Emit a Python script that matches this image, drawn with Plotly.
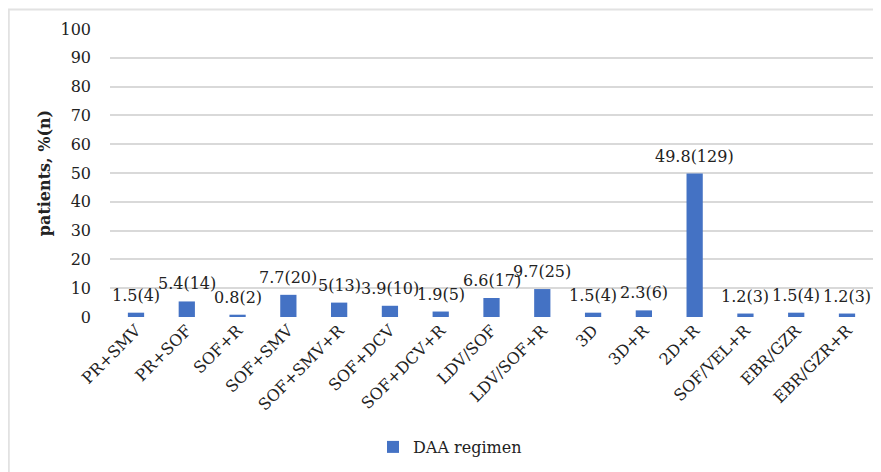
import plotly.graph_objects as go

categories = ["PR+SMV", "PR+SOF", "SOF+R", "SOF+SMV", "SOF+SMV+R", "SOF+DCV",
              "SOF+DCV+R", "LDV/SOF", "LDV/SOF+R", "3D", "3D+R", "2D+R",
              "SOF/VEL+R", "EBR/GZR", "EBR/GZR+R"]
percent = [1.5, 5.4, 0.8, 7.7, 5, 3.9, 1.9, 6.6, 9.7, 1.5, 2.3, 49.8, 1.2, 1.5, 1.2]
counts = [4, 14, 2, 20, 13, 10, 5, 17, 25, 4, 6, 129, 3, 4, 3]
series_name = "DAA regimen"
y_ticks = list(range(0, 101, 10))

# the page places the figure 8px in from the top-left corner
W, H = 865, 472
L, R, T, B = 102, 0, 21, 163
pw, ph = W - L - R, H - T - B

FONT = "DejaVu Serif"
TXT = "#222222"

fig = go.Figure()
fig.add_trace(go.Bar(
    x=categories, y=percent, name=series_name,
    marker=dict(color="#4472C4", line=dict(width=0)),
    showlegend=True,
))

labels = [f"{p:g}({n})" for p, n in zip(percent, counts)]
for c, p, t in zip(categories, percent, labels):
    fig.add_annotation(x=c, y=p, text=t, showarrow=False, yanchor="bottom",
                       yshift=6, font=dict(family=FONT, size=16, color=TXT))

def px_x(v):
    return (v - L) / pw

def px_y(v):
    return (H - B - v) / ph

# light gray frame edge (top and left)
fig.add_shape(type="line", xref="paper", yref="paper", x0=px_x(0), x1=px_x(W),
              y0=px_y(1.5), y1=px_y(1.5), line=dict(color="#E2E2E2", width=2), layer="above")
fig.add_shape(type="line", xref="paper", yref="paper", x0=px_x(0.8), x1=px_x(0.8),
              y0=px_y(H), y1=px_y(1.5), line=dict(color="#E2E2E2", width=2), layer="above")

fig.update_layout(
    width=W, height=H,
    margin=dict(l=L, r=R, t=T, b=B, autoexpand=False),
    paper_bgcolor="white", plot_bgcolor="white",
    bargap=0.68,
    font=dict(family=FONT, size=16, color=TXT),
    legend=dict(orientation="h", x=px_x(365), y=px_y(439), yanchor="middle",
                xanchor="left", font=dict(family=FONT, size=16, color=TXT),
                bgcolor="rgba(0,0,0,0)"),
    xaxis=dict(tickangle=-45, showgrid=False, showline=False, ticks="",
               automargin=False,
               tickfont=dict(family=FONT, size=16, color=TXT)),
    yaxis=dict(range=[0, 100], tickvals=y_ticks, showgrid=True,
               gridcolor="#D9D9D9", gridwidth=1.5, zeroline=False, showline=False,
               ticks="", ticklabelstandoff=18, automargin=False,
               tickfont=dict(family=FONT, size=16, color=TXT),
               title=dict(text="<b>patients, %(n)</b>", standoff=5,
                          font=dict(family=FONT, size=16, color=TXT))),
)

fig.write_html("out.html")
